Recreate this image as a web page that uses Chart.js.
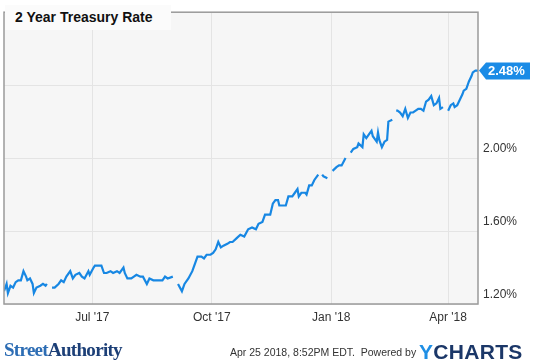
<!DOCTYPE html>
<html>
<head>
<meta charset="utf-8">
<script src="https://cdn.jsdelivr.net/npm/chart.js@4/dist/chart.umd.min.js"></script>
<style>
  html, body { margin: 0; padding: 0; background: #fff; }
  #wrap { position: relative; width: 547px; height: 364px; font-family: "Liberation Sans", Arial, sans-serif; }
  #chart { position: absolute; left: 0; top: 0; }
  .title { position: absolute; left: 5px; top: 5px; width: 166px; height: 25px; background: #fbfbfb;
           font-weight: bold; font-size: 14px; line-height: 25px; padding-left: 10px; box-sizing: border-box; color: #111; }
  .brand { position: absolute; left: 4px; top: 339px; font-family: "Liberation Serif", "DejaVu Serif", serif;
           font-weight: bold; font-size: 19px; letter-spacing: -0.7px; color: #1c3f77; }
  .brand span { color: #2d6db4; }
  .stamp { position: absolute; left: 230px; top: 346px; font-size: 10.5px; color: #333; }
  .ych { position: absolute; left: 419px; top: 340px; font-size: 21px; font-weight: bold; letter-spacing: 0.3px; color: #1b3768; }
  .ych span { color: #1f8fe5; }
</style>
</head>
<body>
<div id="wrap">
  <canvas id="chart" width="547" height="364"></canvas>
  <div class="title">2 Year Treasury Rate</div>
  <div class="brand"><span>Street</span>Authority</div>
  <div class="stamp">Apr 25 2018, 8:52PM EDT.&nbsp; Powered by</div>
  <div class="ych"><span>Y</span>CHARTS</div>
</div>
<script>
// day offsets from Apr 24 2017, null rate = break in the line
const days = [0, 2, 3, 5, 7, 9, 11, 13, 15, 17, 18, 20, 22, 23, 25, 28, 30, 32, 33, 35,
  37, 39, 42, 44, 46, 48, 51, 53, 55, 58, 60, 62, 65, 66, 69, 70, 72, 75, 77, 79,
  82, 84, 87, 89, 92, 93, 95, 98, 100, 102, 105, 107, 110, 112, 115, 117, 119, 122, 124, 126,
  130, 132, 134, 137, 139, 142, 145, 147, 149, 152, 154, 156, 159, 161, 163, 165, 167, 169, 172, 174,
  176, 179, 182, 185, 188, 191, 194, 196, 199, 201, 203, 205, 207, 209, 211, 212, 215, 217, 219, 222,
  224, 226, 227, 229, 232, 233, 235, 237, 239, 242, 244, 245, 246, 249, 251, 253, 256, 258, 260, 263,
  265, 267, 269, 272, 273, 276, 277, 279, 281, 283, 284, 286, 287, 288, 289, 291, 293, 295, 296, 299,
  301, 302, 303, 305, 307, 309, 311, 313, 315, 317, 319, 321, 323, 325, 327, 329, 331, 333, 335, 336,
  338, 340, 342, 344, 346, 347, 349, 351, 353, 354, 356, 358, 360, 361, 363, 365];
const rates = [1.27, 1.31, 1.26, 1.30, 1.29, 1.32, 1.33, 1.33, 1.38, 1.35, 1.33, 1.34, 1.31, 1.26, 1.29, 1.30, 1.31, 1.30, 1.31, null,
  1.29, 1.29, 1.31, 1.33, 1.32, 1.35, 1.38, 1.34, 1.36, 1.37, 1.35, 1.34, 1.38, 1.36, 1.40, 1.41, 1.41, 1.41, 1.37, 1.37,
  1.38, 1.37, 1.38, 1.37, 1.40, 1.37, 1.34, 1.34, 1.35, 1.36, 1.35, 1.35, 1.31, 1.34, 1.33, 1.33, 1.33, 1.33, 1.35, 1.34,
  1.35, null, 1.31, 1.27, 1.31, 1.34, 1.38, 1.42, 1.46, 1.46, 1.45, 1.47, 1.47, 1.48, 1.50, 1.54, 1.51, 1.52, 1.53, 1.54,
  1.54, 1.56, 1.58, 1.57, 1.61, 1.62, 1.61, 1.64, 1.65, 1.69, 1.69, 1.69, 1.75, 1.77, 1.77, 1.74, 1.74, 1.74, 1.79, 1.79,
  1.81, 1.83, 1.79, 1.81, 1.81, 1.80, 1.85, 1.85, 1.88, 1.91, null, 1.91, 1.90, 1.89, null, 1.93, 1.95, 1.96, 1.96, 2.00,
  null, 2.03, 2.05, 2.06, 2.08, 2.06, 2.13, 2.11, 2.13, 2.15, 2.12, 2.10, 2.09, 2.14, 2.10, 2.06, 2.09, 2.10, 2.20, 2.21,
  null, 2.26, 2.26, 2.25, 2.23, 2.27, 2.22, 2.25, 2.25, 2.26, 2.27, 2.27, 2.26, 2.31, 2.32, 2.34, 2.29, 2.30, 2.33, 2.27,
  2.28, null, 2.26, 2.29, 2.30, 2.28, 2.29, 2.32, 2.35, 2.37, 2.38, 2.42, 2.45, 2.47, 2.48, 2.48];

const tickDays = [68, 160, 252, 342];
const tickLabels = ["Jul '17", "Oct '17", "Jan '18", "Apr '18"];
const yTicks = [1.2, 1.6, 2.0, 2.4, 2.8];
const lastRate = rates[rates.length - 1];

const lineBlue = "#1787e3";
const points = days.map((d, i) => ({ x: d, y: rates[i] }));

const frame = {
    id: "frame",
    beforeDraw(chart) {
        const { ctx, chartArea: a } = chart;
        ctx.save();
        ctx.fillStyle = "#f6f6f6";
        ctx.fillRect(a.left, a.top, a.right - a.left, a.bottom - a.top);
        ctx.restore();
    },
    afterDraw(chart) {
        const { ctx, chartArea: a } = chart;
        ctx.save();
        ctx.strokeStyle = "#9a9a9a";
        ctx.lineWidth = 1.5;
        ctx.strokeRect(a.left, a.top, a.right - a.left, a.bottom - a.top);

        // value tag on the right edge
        const y = chart.scales.y.getPixelForValue(lastRate);
        const x0 = a.right + 1;
        ctx.fillStyle = "#1a8be6";
        ctx.beginPath();
        ctx.moveTo(x0, y);
        ctx.lineTo(x0 + 7, y - 8);
        ctx.lineTo(x0 + 51, y - 8);
        ctx.lineTo(x0 + 51, y + 9);
        ctx.lineTo(x0 + 7, y + 9);
        ctx.closePath();
        ctx.fill();
        ctx.fillStyle = "#fff";
        ctx.font = "bold 13px 'Liberation Sans', Arial, sans-serif";
        ctx.textBaseline = "middle";
        ctx.fillText(lastRate.toFixed(2) + "%", x0 + 9, y + 1);
        ctx.restore();
    }
};

new Chart(document.getElementById("chart"), {
    type: "line",
    data: {
        datasets: [{
            data: points,
            borderColor: lineBlue,
            borderWidth: 2.2,
            pointRadius: 0,
            tension: 0,
            spanGaps: false,
            fill: false
        }]
    },
    options: {
        responsive: false,
        animation: false,
        events: [],
        layout: { padding: { left: 4, top: 4, right: 0, bottom: 36 } },
        plugins: { legend: { display: false }, tooltip: { enabled: false } },
        scales: {
            x: {
                type: "linear",
                min: 0,
                max: 365,
                afterBuildTicks: axis => { axis.ticks = tickDays.map(v => ({ value: v })); },
                afterFit: axis => { axis.height = 24; },
                grid: { color: "#e4e4e4", drawTicks: false },
                border: { display: false },
                ticks: {
                    padding: 6,
                    maxRotation: 0,
                    color: "#333",
                    font: { family: "'Liberation Sans', Arial, sans-serif", size: 12 },
                    callback: v => tickLabels[tickDays.indexOf(v)]
                }
            },
            y: {
                position: "right",
                min: 1.2,
                max: 2.8,
                afterBuildTicks: axis => { axis.ticks = yTicks.map(v => ({ value: v })); },
                afterFit: axis => { axis.width = 69; },
                grid: { color: "#e4e4e4", drawTicks: false },
                border: { display: false },
                ticks: {
                    padding: 5,
                    labelOffset: -9,
                    color: "#333",
                    font: { family: "'Liberation Sans', Arial, sans-serif", size: 12 },
                    callback: v => (v > 2.3 ? "" : v.toFixed(2) + "%")
                }
            }
        }
    },
    plugins: [frame]
});
</script>
</body>
</html>
